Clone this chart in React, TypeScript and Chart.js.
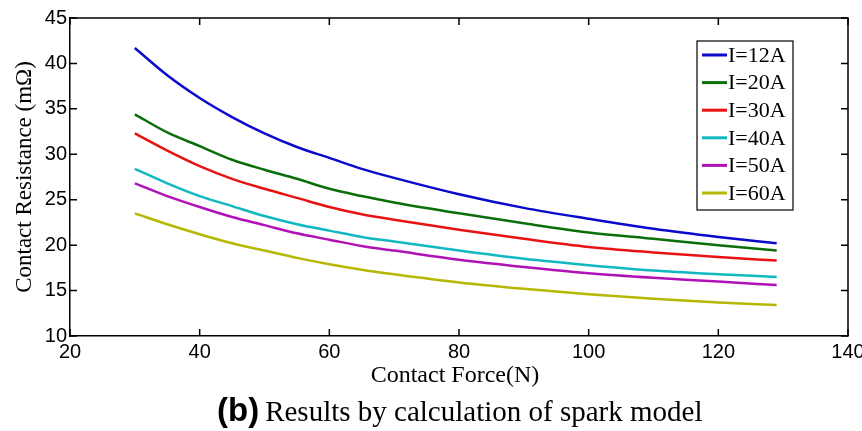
import { useEffect, useRef } from "react";
import { Chart, registerables } from "chart.js";

Chart.register(...registerables);

const forces = [30, 35, 40, 45, 50, 55, 60, 65, 70, 80, 90, 100, 110, 120, 129];
const seriesLabels = ["I=12A", "I=20A", "I=30A", "I=40A", "I=50A", "I=60A"];
const i12 = [41.7, 38.7, 36.2, 34.1, 32.3, 30.8, 29.6, 28.4, 27.4, 25.6, 24.1, 22.9, 21.8, 20.9, 20.2];
const i20 = [34.4, 32.4, 30.9, 29.4, 28.3, 27.3, 26.2, 25.4, 24.7, 23.5, 22.4, 21.4, 20.7, 20.0, 19.4];
const i30 = [32.3, 30.4, 28.7, 27.3, 26.2, 25.2, 24.2, 23.4, 22.8, 21.7, 20.7, 19.8, 19.2, 18.7, 18.3];
const i40 = [28.4, 26.8, 25.4, 24.3, 23.2, 22.3, 21.6, 20.9, 20.4, 19.4, 18.5, 17.8, 17.2, 16.8, 16.5];
const i50 = [26.8, 25.4, 24.2, 23.1, 22.2, 21.3, 20.6, 19.9, 19.4, 18.4, 17.6, 16.9, 16.4, 16.0, 15.6];
const i60 = [23.5, 22.3, 21.2, 20.2, 19.4, 18.6, 17.9, 17.3, 16.8, 15.9, 15.2, 14.6, 14.1, 13.7, 13.4];
const seriesValues = [i12, i20, i30, i40, i50, i60];
const seriesColors = ["#0a0acc", "#0a6e0a", "#e81212", "#12b8c0", "#b012b8", "#b4b800"];
const xTicks = [20, 40, 60, 80, 100, 120, 140];
const yTicks = [10, 15, 20, 25, 30, 35, 40, 45];
const xTitle = "Contact Force(N)";
const yTitle = "Contact Resistance (m\u03A9)";
const captionTag = "(b)";
const captionText = "Results by calculation of spark model";

const SERIF = "'Liberation Serif', 'Times New Roman', serif";
const SANS = "'Liberation Sans', Arial, sans-serif";

const decorPlugin = {
  id: "decor",
  afterDraw(chart: any) {
    const ctx = chart.ctx as CanvasRenderingContext2D;
    const { left, right, top, bottom } = chart.chartArea;
    const xs = chart.scales.x;
    const ys = chart.scales.y;
    ctx.save();
    // frame
    ctx.strokeStyle = "#000";
    ctx.lineWidth = 1.5;
    ctx.beginPath();
    ctx.moveTo(left, top);
    ctx.lineTo(right, top);
    ctx.lineTo(right, bottom);
    ctx.stroke();
    // inward ticks
    const tl = 7;
    ctx.lineWidth = 1.5;
    ctx.beginPath();
    for (const v of xTicks) {
      const px = xs.getPixelForValue(v);
      ctx.moveTo(px, bottom);
      ctx.lineTo(px, bottom - tl);
      ctx.moveTo(px, top);
      ctx.lineTo(px, top + tl);
    }
    for (const v of yTicks) {
      const py = ys.getPixelForValue(v);
      ctx.moveTo(left, py);
      ctx.lineTo(left + tl, py);
      ctx.moveTo(right, py);
      ctx.lineTo(right - tl, py);
    }
    ctx.stroke();

    // legend
    const lx = 697, ly = 41, lw = 96, lh = 169;
    ctx.fillStyle = "#fff";
    ctx.fillRect(lx, ly, lw, lh);
    ctx.strokeStyle = "#000";
    ctx.lineWidth = 1.2;
    ctx.strokeRect(lx, ly, lw, lh);
    ctx.font = `22px ${SERIF}`;
    ctx.textBaseline = "middle";
    ctx.textAlign = "left";
    chart.data.datasets.forEach((ds: any, i: number) => {
      const cy = 55 + i * 27.6;
      ctx.strokeStyle = ds.borderColor;
      ctx.lineWidth = 3;
      ctx.beginPath();
      ctx.moveTo(lx + 5, cy);
      ctx.lineTo(lx + 30, cy);
      ctx.stroke();
      ctx.fillStyle = "#000";
      ctx.fillText(ds.label, lx + 31, cy + 1);
    });

    // axis titles
    ctx.fillStyle = "#000";
    ctx.font = `24px ${SERIF}`;
    ctx.textAlign = "center";
    ctx.textBaseline = "middle";
    ctx.fillText(xTitle, 455, 376);
    ctx.save();
    ctx.translate(25, 177);
    ctx.rotate(-Math.PI / 2);
    ctx.font = `23px ${SERIF}`;
    ctx.fillText(yTitle, 0, 0);
    ctx.restore();

    // caption
    ctx.textAlign = "left";
    ctx.textBaseline = "alphabetic";
    ctx.font = `bold 33px ${SANS}`;
    ctx.fillText(captionTag, 217, 421);
    const tagW = ctx.measureText(captionTag).width;
    ctx.font = `29px ${SERIF}`;
    ctx.fillText(captionText, 217 + tagW + 6, 421);
    ctx.restore();
  },
};

export default function App() {
  const ref = useRef<HTMLCanvasElement>(null);
  useEffect(() => {
    if (!ref.current) return;
    const chart = new Chart(ref.current, {
      type: "line",
      data: {
        datasets: seriesValues.map((vals, i) => ({
          label: seriesLabels[i],
          data: forces.map((f, j) => ({ x: f, y: vals[j] })),
          borderColor: seriesColors[i],
          backgroundColor: seriesColors[i],
          borderWidth: 2.5,
          pointRadius: 0,
          cubicInterpolationMode: "monotone" as const,
          fill: false,
        })),
      },
      options: {
        responsive: false,
        animation: false,
        layout: { padding: { top: 18, right: 14, left: 0, bottom: 0 } },
        plugins: { legend: { display: false }, tooltip: { enabled: false }, title: { display: false } },
        scales: {
          x: {
            type: "linear",
            min: 20,
            max: 140,
            afterFit: (s: any) => { s.height = 95; s.paddingLeft = 0; s.paddingRight = 0; },
            afterBuildTicks: (s: any) => { s.ticks = xTicks.map((v) => ({ value: v })); },
            ticks: { color: "#000", font: { family: SANS, size: 20 }, padding: 4, maxRotation: 0 },
            grid: { display: false, drawTicks: false },
            border: { display: true, color: "#000", width: 1.5 },
          },
          y: {
            type: "linear",
            min: 10,
            max: 45,
            afterFit: (s: any) => { s.width = 70; s.paddingTop = 0; s.paddingBottom = 0; },
            afterBuildTicks: (s: any) => { s.ticks = yTicks.map((v) => ({ value: v })); },
            ticks: { color: "#000", font: { family: SANS, size: 20 }, padding: 3 },
            grid: { display: false, drawTicks: false },
            border: { display: true, color: "#000", width: 1.5 },
          },
        },
      },
      plugins: [decorPlugin],
    });
    return () => chart.destroy();
  }, []);
  return (
    <div style={{ position: "fixed", left: 0, top: 0, width: 862, height: 431, background: "#fff" }}>
      <canvas ref={ref} width={862} height={431} style={{ display: "block" }} />
    </div>
  );
}
